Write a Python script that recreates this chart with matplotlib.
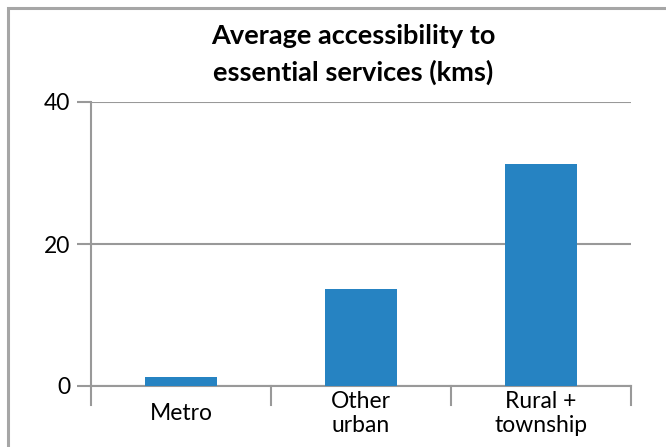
#!/usr/bin/env python3
"""
Bar chart: average accessibility to essential services
"""
import matplotlib.pyplot as plt
from matplotlib.patches import Rectangle

categories = ['Metro', 'Other\nurban', 'Rural +\ntownship']
distance_kms = [1.2, 13.7, 31.2]
y_ticks = [0, 20, 40]

GRID = '#999999'
BAR = '#2683c2'

plt.rcParams['font.family'] = ['Lato', 'DejaVu Sans']

fig = plt.figure(figsize=(6.66, 4.47), dpi=100)
W, H = 666, 447
ax = fig.add_axes([91 / W, 1 - 386 / H, (631 - 91) / W, (386 - 102) / H])

x = range(len(categories))
ax.bar(x, distance_kms, width=0.4, color=BAR, zorder=3)
ax.set_xlim(-0.5, len(categories) - 0.5)
ax.set_ylim(0, 40)
ax.set_yticks(y_ticks)
ax.set_yticklabels([str(v) for v in y_ticks], fontsize=16.5)
ax.set_xticks([])
ax.grid(axis='y', color=GRID, linewidth=1.5, zorder=0)
ax.tick_params(axis='y', length=10, width=1.5, color=GRID, pad=5)
for s in ['top', 'right']:
    ax.spines[s].set_visible(False)
ax.spines['left'].set_color(GRID)
ax.spines['left'].set_linewidth(1.5)
ax.spines['bottom'].set_color(GRID)
ax.spines['bottom'].set_linewidth(1.5)

# category separators below the axis and labels
for b in [-0.5, 0.5, 1.5, 2.5]:
    ax.plot([b, b], [0, -2.7], color=GRID, linewidth=1.5, clip_on=False)
for i, lab in enumerate(categories):
    ax.text(i, -3.9, lab, ha='center', va='center', fontsize=16.5,
            linespacing=1.2)

fig.text(353 / W, 1 - 24 / H, 'Average accessibility to\nessential services (kms)',
         ha='center', va='top', fontsize=19.5, fontweight='bold', linespacing=1.55)

# outer chart border
fig.add_artist(Rectangle((8 / W, -0.1), 1.2, 1 - 8 / H + 0.1, transform=fig.transFigure,
                         fill=False, edgecolor='#a6a6a6', linewidth=2.2))

fig.savefig('out.png', dpi=100)
